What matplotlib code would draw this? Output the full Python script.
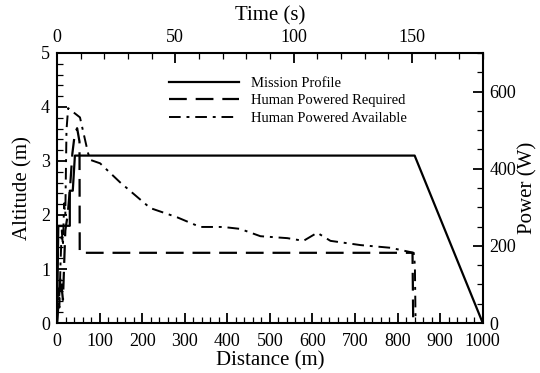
import matplotlib.pyplot as plt
from matplotlib.ticker import MultipleLocator

# mission profile: distance (m) vs altitude (m)
dist = [0, 3, 30, 30, 37, 42, 840, 1000]
alt = [0, 1.8, 1.8, 2.45, 2.45, 3.1, 3.1, 0]

# human powered required: time (s) vs power (W)
t_req = [0, 1.5, 2.5, 3.5, 4.5, 5.5, 6.5, 7.5, 8.5, 9.5, 9.6, 150, 150.3, 150.6]
p_req = [0, 120, 60, 240, 280, 350, 440, 490, 505, 470, 182, 182, 182, 0]

# human powered available: time (s) vs power (W)
t_av = [0, 0.5, 1.0, 1.5, 2.0, 2.5, 3.0, 3.5, 4.0, 4.7, 9.7, 13.1, 14, 18.2, 26.6,
        39.4, 50.8, 60.5, 70.2, 77.4, 86, 97.4, 104.2, 110, 115.6, 128.3, 141,
        150.8, 151.3, 151.6]
p_av = [0, 90, 40, 160, 240, 200, 310, 280, 500, 557, 533, 441, 423, 414, 365,
        298, 274, 249, 249, 244, 225, 220, 213, 234, 213, 202, 195,
        182, 150, 0]

plt.rcParams['font.family'] = ['Liberation Serif', 'DejaVu Serif']

fig = plt.figure(figsize=(5.4, 3.73), dpi=100)
pos = [0.1056, 0.134, 0.7884, 0.724]
ax = fig.add_axes(pos)
ax2 = fig.add_axes(pos, frameon=False)

l1, = ax.plot(dist, alt, color='black', lw=1.6, label='Mission Profile')
l2, = ax2.plot(t_req, p_req, color='black', lw=1.6, dashes=(8, 4),
               label='Human Powered Required')
l3, = ax2.plot(t_av, p_av, color='black', lw=1.4, dashes=(6, 3, 1.5, 3),
               label='Human Powered Available')

ax.set_xlim(0, 1000)
ax.set_ylim(0, 5)
ax2.set_xlim(0, 180)
ax2.set_ylim(0, 700)

ax.xaxis.set_major_locator(MultipleLocator(100))
ax.xaxis.set_minor_locator(MultipleLocator(20))
ax.yaxis.set_major_locator(MultipleLocator(1))
ax.yaxis.set_minor_locator(MultipleLocator(0.2))
ax2.xaxis.set_major_locator(MultipleLocator(50))
ax2.xaxis.set_minor_locator(MultipleLocator(10))
ax2.yaxis.set_major_locator(MultipleLocator(200))
ax2.yaxis.set_minor_locator(MultipleLocator(50))

ax2.xaxis.tick_top()
ax2.xaxis.set_label_position('top')
ax2.yaxis.tick_right()
ax2.yaxis.set_label_position('right')

for a in (ax, ax2):
    a.tick_params(which='major', direction='in', length=7, width=1.3, labelsize=13, pad=5)
    a.tick_params(which='minor', direction='in', length=4, width=0.9)
ax.tick_params(axis='x', which='major', pad=7)
ax2.tick_params(axis='y', which='major', pad=5)
for s in ax.spines.values():
    s.set_linewidth(1.5)

ax.set_xlabel('Distance (m)', fontsize=15, labelpad=1)
ax.set_ylabel('Altitude (m)', fontsize=15, labelpad=6)
ax2.set_xlabel('Time (s)', fontsize=15, labelpad=6)
ax2.set_ylabel('Power (W)', fontsize=15, labelpad=1)

leg = ax.legend(handles=[l1, l2, l3], loc='upper left', bbox_to_anchor=(0.24, 0.95),
                frameon=False, fontsize=10.5, handlelength=4.8, labelspacing=0.3,
                handletextpad=0.8, borderpad=0.2)

plt.savefig('out.png', dpi=100)
